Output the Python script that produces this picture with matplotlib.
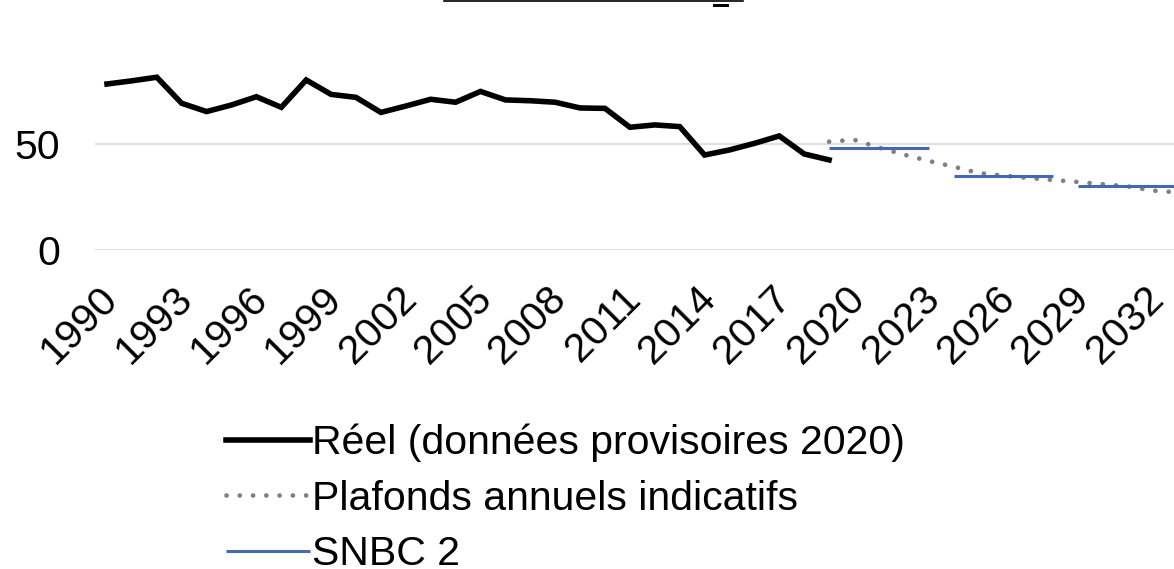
import numpy as np
import matplotlib
matplotlib.use("Agg")
import matplotlib.pyplot as plt
import matplotlib.transforms as mtransforms
from matplotlib.lines import Line2D
from matplotlib.patches import Rectangle

plt.rcParams['font.family'] = ['Liberation Sans', 'DejaVu Sans']

# Réel (données provisoires 2020), 1990-2019
years_real = list(range(1990, 2020))
real = [78.3, 79.8, 81.5, 69.2, 65.3, 68.4, 72.3, 67.3, 80.2, 73.4,
        72.0, 64.9, 67.9, 71.1, 69.7, 74.8, 70.8, 70.4, 69.7, 67.0,
        66.8, 57.9, 59.0, 58.2, 44.8, 47.2, 50.3, 53.8, 45.3, 42.5]

# Plafonds annuels indicatifs, 2019-2033
years_caps = list(range(2019, 2034))
caps = [51.1, 52.0, 48.3, 45.0, 42.0, 39.3, 36.3, 35.1, 34.0, 33.0,
        32.1, 31.0, 30.0, 28.0, 27.2]

# SNBC 2 carbon budgets (one flat level per period)
snbc_periods = [(2019, 2023), (2024, 2028), (2029, 2033)]
snbc_levels = [48.1, 35.1, 30.2]

xtick_years = list(range(1990, 2033, 3))
yticks = [0, 50]

FS = 29.5
W, H = 1174, 569

fig = plt.figure(figsize=(W / 100, H / 100), dpi=100)

# plot area in pixels (top-left origin)
px_per_year = 24.9
ax_left_px = 107 - px_per_year / 2
ax_bottom_px = 250
ymax = 90
ax_top_px = ax_bottom_px - ymax * 2.12
ax = fig.add_axes([ax_left_px / W, 1 - ax_bottom_px / H,
                   1 - ax_left_px / W, (ax_bottom_px - ax_top_px) / H])

ax.set_xlim(1989.5, 1989.5 + (W - ax_left_px) / px_per_year)
ax.set_ylim(0, ymax)

ax.plot(years_real, real, color='black', lw=4.0, solid_joinstyle='miter',
        label='Réel (données provisoires 2020)', clip_on=False)
ax.plot(years_caps, caps, color='#808080', lw=3.4, linestyle=(0, (0.01, 2.8)),
        dash_capstyle='round', label='Plafonds annuels indicatifs')

snbc_x, snbc_y = [], []
for (a, b), v in zip(snbc_periods, snbc_levels):
    snbc_x += [a, b, np.nan]
    snbc_y += [v, v, np.nan]
ax.plot(snbc_x, snbc_y, color='#4468B4', lw=2.2, solid_capstyle='butt',
        label='SNBC 2')

ax.set_yticks(yticks)
ax.set_yticklabels([str(t) for t in yticks], fontsize=FS)
ax.set_xticks(xtick_years)
ax.set_xticklabels([str(y) for y in xtick_years], fontsize=FS, rotation=45,
                   ha='right', va='center', rotation_mode='anchor')
ax.tick_params(axis='y', length=0, pad=25)
ax.tick_params(axis='x', length=0, pad=31)
shift = mtransforms.ScaledTranslation(5 / 100, 0, fig.dpi_scale_trans)
for lab in ax.get_xticklabels():
    lab.set_transform(lab.get_transform() + shift)
ax.grid(axis='y', color='#D9D9D9', lw=1.2)
ax.set_axisbelow(True)
for s in ax.spines.values():
    s.set_visible(False)

leg = fig.legend(loc='upper left', bbox_to_anchor=(226 / W, 1 - 424 / H),
                 frameon=False, fontsize=FS, handlelength=2.05,
                 handletextpad=0.05, labelspacing=0.42, borderpad=0,
                 borderaxespad=0)

# remnants of the cropped title (underline and subscript)
fig.add_artist(Line2D([444 / W, 743 / W], [1 - 0.8 / H, 1 - 0.8 / H],
                      transform=fig.transFigure, color='black', lw=1.2))
fig.add_artist(Rectangle((713 / W, 1 - 7 / H), 16 / W, 3 / H,
                         transform=fig.transFigure, color='black', lw=0))

fig.savefig('out.png', dpi=100)
